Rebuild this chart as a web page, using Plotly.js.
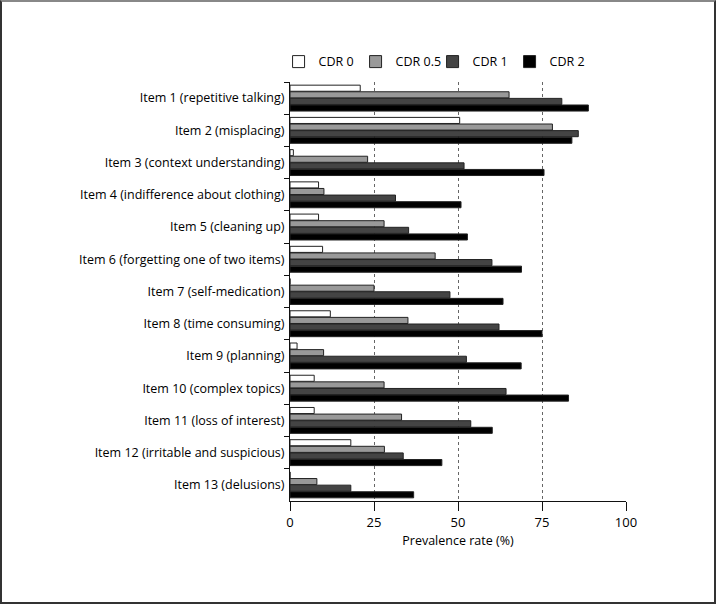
<!DOCTYPE html>
<html>
<head>
<meta charset="utf-8">
<script src="https://cdn.plot.ly/plotly-3.0.1.min.js"></script>
<style>
  html, body { margin: 0; padding: 0; background: #fff; }
  #wrap { position: relative; width: 716px; height: 604px; }
  #chart { position: absolute; left: 0; top: 0; width: 716px; height: 604px; }
  #frame { position: absolute; left: 0; top: 0; width: 716px; height: 604px; box-sizing: border-box;
           border: 2px solid #333; border-top-color: #888; pointer-events: none; }
</style>
</head>
<body>
<div id="wrap"><div id="chart"></div><div id="frame"></div></div>
<script>
const categories = [
  "Item 1 (repetitive talking)",
  "Item 2 (misplacing)",
  "Item 3 (context understanding)",
  "Item 4 (indifference about clothing)",
  "Item 5 (cleaning up)",
  "Item 6 (forgetting one of two items)",
  "Item 7 (self-medication)",
  "Item 8 (time consuming)",
  "Item 9 (planning)",
  "Item 10 (complex topics)",
  "Item 11 (loss of interest)",
  "Item 12 (irritable and suspicious)",
  "Item 13 (delusions)"
];
const seriesNames = ["CDR 0", "CDR 0.5", "CDR 1", "CDR 2"];
const cdr0   = [20.9, 50.5, 1.0, 8.5, 8.5, 9.7, 0, 12.0, 2.1, 7.2, 7.2, 18.1, 0];
const cdr05  = [65.2, 78.1, 23.1, 10.1, 28.0, 43.2, 25.0, 35.1, 10.0, 28.0, 33.2, 28.1, 8.0];
const cdr1   = [80.9, 85.8, 51.8, 31.4, 35.3, 60.1, 47.6, 62.2, 52.5, 64.3, 53.8, 33.7, 18.1];
const cdr2   = [88.8, 83.9, 75.6, 50.9, 52.8, 68.9, 63.4, 75.0, 68.8, 82.9, 60.2, 45.2, 36.8];
const xTicks = [0, 25, 50, 75, 100];

const seriesValues = [cdr0, cdr05, cdr1, cdr2];
const fills = ["#ffffff", "#999999", "#444444", "#000000"];

const traces = seriesValues.map((vals, i) => ({
  type: "bar",
  orientation: "h",
  name: seriesNames[i],
  y: categories,
  x: vals,
  marker: { color: fills[i], line: { color: "#222", width: 1 } },
  hoverinfo: "x+name"
}));

const font = "'Open Sans', 'Noto Sans', sans-serif";

const layout = {
  width: 716, height: 604,
  margin: { l: 290, r: 90, t: 82, b: 103 },
  paper_bgcolor: "#fff", plot_bgcolor: "#fff",
  barmode: "group",
  bargap: 0.18,
  bargroupgap: 0.08,
  font: { family: font, size: 12.5, color: "#000" },
  showlegend: true,
  legend: {
    orientation: "h", x: -0.034, xanchor: "left", y: 1.012, yanchor: "bottom",
    font: { family: font, size: 12.5, color: "#000" },
    traceorder: "normal", itemwidth: 30,
    entrywidth: 32, entrywidthmode: "pixels"
  },
  xaxis: {
    range: [0, 100],
    tickvals: xTicks,
    ticktext: xTicks.map(String),
    showgrid: true, gridcolor: "#666", griddash: "dot", gridwidth: 1,
    zeroline: false,
    showline: true, linecolor: "#111", linewidth: 1,
    ticks: "outside", ticklen: 9, tickcolor: "#111",
    tickfont: { family: font, size: 13, color: "#000" },
    title: { text: "Prevalence rate (%)", font: { family: font, size: 12.5, color: "#000" }, standoff: 6 },
    fixedrange: true
  },
  yaxis: {
    type: "category",
    autorange: "reversed",
    showline: true, linecolor: "#111", linewidth: 1,
    ticks: "outside", ticklen: 5, tickcolor: "#111",
    tickson: "boundaries",
    ticklabelstandoff: 2,
    showgrid: false, zeroline: false,
    tickfont: { family: font, size: 12.5, color: "#000" },
    fixedrange: true
  }
};

Plotly.newPlot("chart", traces, layout, { displayModeBar: false, staticPlot: true });
</script>
</body>
</html>
